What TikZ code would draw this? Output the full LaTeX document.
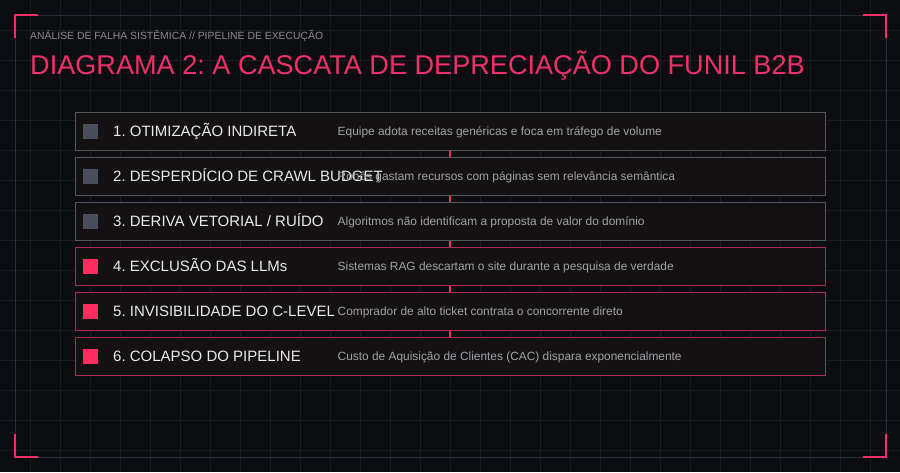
\documentclass[tikz,border=0pt]{standalone}
\usepackage{fontspec}
\setmainfont{Liberation Sans}
\frenchspacing
\definecolor{bg}{HTML}{0C0D11}
\definecolor{gridc}{HTML}{1A1C23}
\definecolor{framec}{HTML}{2A2C3A}
\definecolor{pinkc}{HTML}{F0306A}
\definecolor{pinkbox}{HTML}{B02A55}
\definecolor{graybox}{HTML}{55565C}
\definecolor{boxfill}{HTML}{141113}
\definecolor{markgray}{HTML}{4A4D5C}
\definecolor{markpink}{HTML}{FF2D60}
\definecolor{labelc}{HTML}{EAEAEA}
\definecolor{descc}{HTML}{A2A2A6}
\definecolor{subc}{HTML}{8A8A90}
\begin{document}
\begin{tikzpicture}[x=1pt,y=-1pt,
  gridline/.style={draw=gridc,line width=0.8pt},
  frameline/.style={draw=framec,line width=1pt},
  cornerline/.style={draw=pinkc,line width=2.2pt},
  rowbox/.style={draw=graybox,fill=boxfill,line width=1pt,minimum width=750pt,minimum height=37.5pt,inner sep=0pt},
  hotbox/.style={rowbox,draw=pinkbox},
  marker/.style={fill=markgray,minimum size=15.5pt,inner sep=0pt},
  hotmarker/.style={marker,fill=markpink},
  lbl/.style={anchor=base west,inner sep=0pt,text=labelc,font=\fontsize{15}{18}\selectfont},
  desc/.style={anchor=base west,inner sep=0pt,text=descc,font=\fontsize{11.9}{14}\selectfont},
  conn/.style={draw=pinkc,line width=1.4pt}
]
\useasboundingbox (0,0) rectangle (900,472);
\fill[bg] (0,0) rectangle (900,472);
\foreach \gx in {30,60,...,870} {\draw[gridline] (\gx,0) -- (\gx,472);}
\foreach \gy in {30,60,...,450} {\draw[gridline] (0,\gy) -- (900,\gy);}
\draw[frameline] (15,15) rectangle (886,457);
\draw[cornerline] (15,38) -- (15,15) -- (38,15);
\draw[cornerline] (863,15) -- (886,15) -- (886,38);
\draw[cornerline] (15,434) -- (15,457) -- (38,457);
\draw[cornerline] (863,457) -- (886,457) -- (886,434);

\node[anchor=base west,inner sep=0pt,text=subc,font=\fontsize{10.4}{12}\selectfont] (sub) at (30,39.3) {ANÁLISE DE FALHA SISTÊMICA // PIPELINE DE EXECUÇÃO};
\node[anchor=base west,inner sep=0pt,text=pinkc,font=\fontsize{27.1}{32}\selectfont] (title) at (30,74) {DIAGRAMA 2: A CASCATA DE DEPRECIAÇÃO DO FUNIL B2B};

\node[rowbox] (b1) at (450,131.25) {};
\node[rowbox] (b2) at (450,176.25) {};
\node[rowbox] (b3) at (450,221.25) {};
\node[hotbox] (b4) at (450,266.25) {};
\node[hotbox] (b5) at (450,311.25) {};
\node[hotbox] (b6) at (450,356.25) {};

\draw[conn] (b1.south) -- (b2.north);
\draw[conn] (b2.south) -- (b3.north);
\draw[conn] (b3.south) -- (b4.north);
\draw[conn] (b4.south) -- (b5.north);
\draw[conn] (b5.south) -- (b6.north);

\node[marker] (m1) at (90.5,131.25) {};
\node[marker] (m2) at (90.5,176.25) {};
\node[marker] (m3) at (90.5,221.25) {};
\node[hotmarker] (m4) at (90.5,266.25) {};
\node[hotmarker] (m5) at (90.5,311.25) {};
\node[hotmarker] (m6) at (90.5,356.25) {};

\node[lbl] (l1) at (113,136.7) {1. OTIMIZAÇÃO INDIRETA};
\node[lbl] (l2) at (113,181.7) {2. DESPERDÍCIO DE CRAWL BUDGET};
\node[lbl] (l3) at (113,226.7) {3. DERIVA VETORIAL / RUÍDO};
\node[lbl] (l4) at (113,271.7) {4. EXCLUSÃO DAS LLMs};
\node[lbl] (l5) at (113,316.7) {5. INVISIBILIDADE DO C-LEVEL};
\node[lbl] (l6) at (113,361.7) {6. COLAPSO DO PIPELINE};

\node[desc] (d1) at (337.5,135.6) {Equipe adota receitas genéricas e foca em tráfego de volume};
\node[desc] (d2) at (337.5,180.6) {Robôs gastam recursos com páginas sem relevância semântica};
\node[desc] (d3) at (337.5,225.6) {Algoritmos não identificam a proposta de valor do domínio};
\node[desc] (d4) at (337.5,270.6) {Sistemas RAG descartam o site durante a pesquisa de verdade};
\node[desc] (d5) at (337.5,315.6) {Comprador de alto ticket contrata o concorrente direto};
\node[desc] (d6) at (337.5,360.6) {Custo de Aquisição de Clientes (CAC) dispara exponencialmente};
\end{tikzpicture}
\end{document}
